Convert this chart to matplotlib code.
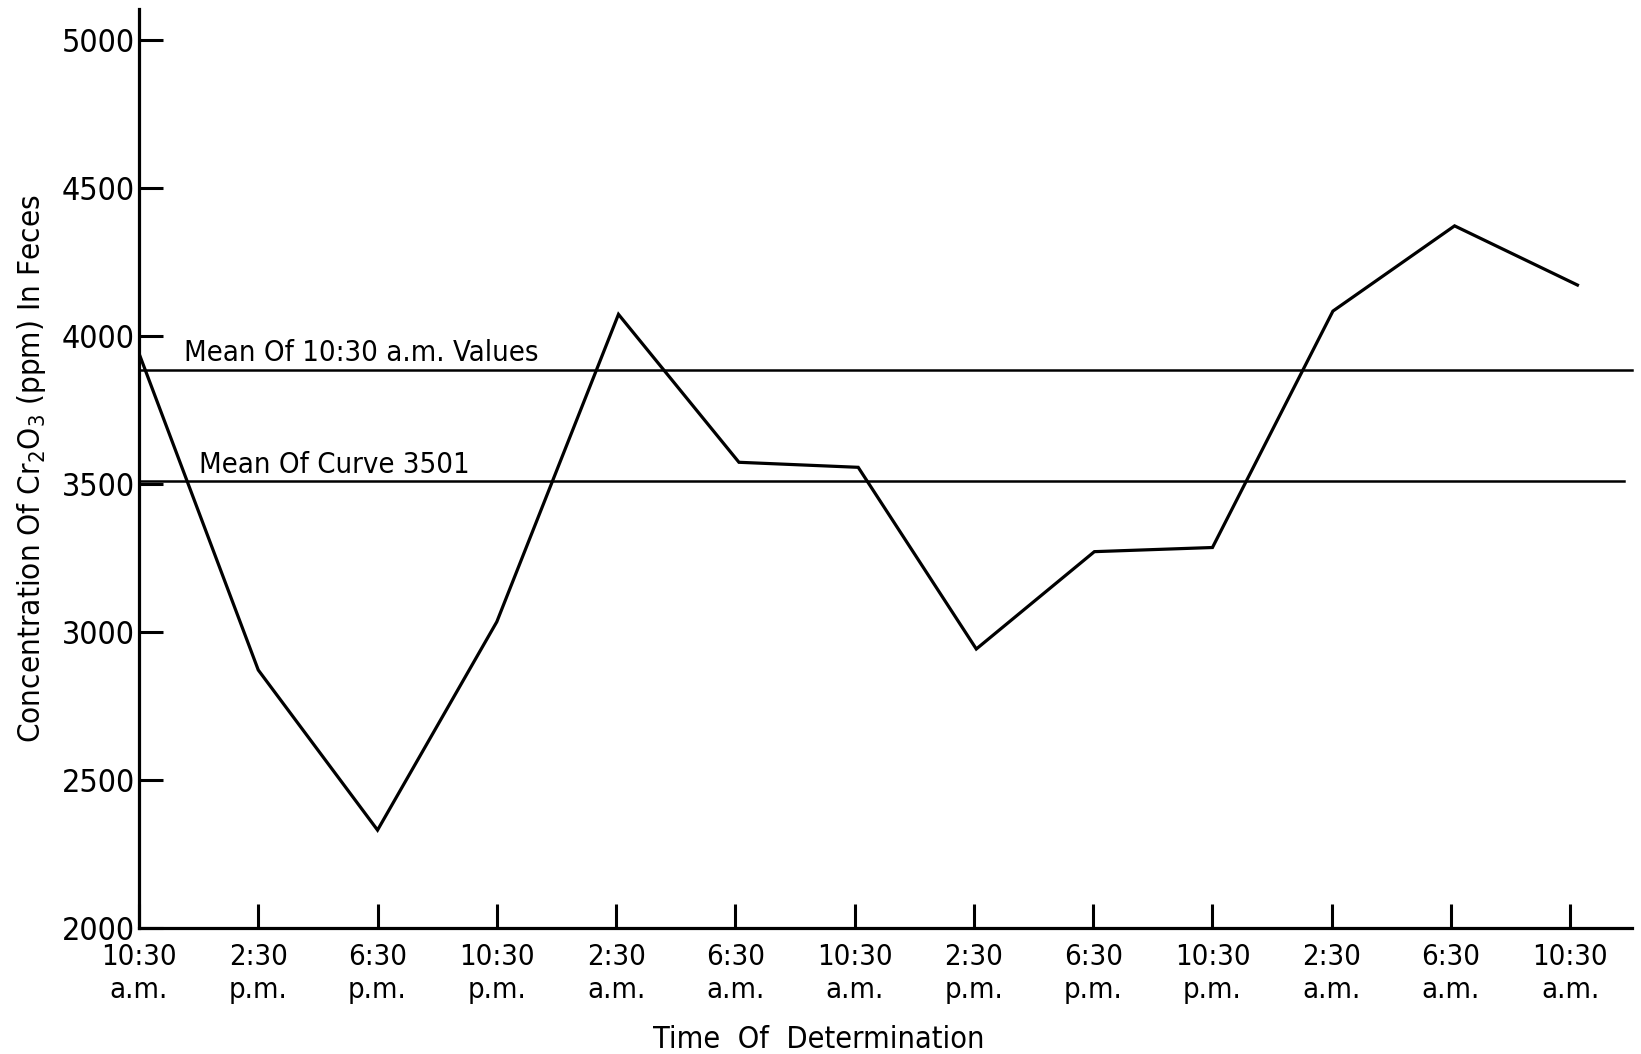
import matplotlib
matplotlib.use("Agg")
from matplotlib import pyplot as plt

# sampling times (every 4 hours) and Cr2O3 concentration in feces, ppm
times = ["10:30\na.m.", "2:30\np.m.", "6:30\np.m.", "10:30\np.m.", "2:30\na.m.", "6:30\na.m.",
         "10:30\na.m.", "2:30\np.m.", "6:30\np.m.", "10:30\np.m.", "2:30\na.m.", "6:30\na.m.",
         "10:30\na.m."]
x_pos = [0, 1, 2, 3, 4.02, 5.03, 6.03, 7.02, 8.01, 9.0, 10.01, 11.03, 12.06]
conc = [3942, 2872, 2331, 3035, 4074, 3574, 3557, 2943, 3272, 3286, 4085, 4373, 4173]

mean_1030 = 3887    # mean of 10:30 a.m. values
mean_curve = 3511   # mean of curve 3501

plt.rcParams['font.family'] = ['DejaVu Sans']
plt.rcParams['font.stretch'] = 'condensed'

fig = plt.figure(figsize=(16.41, 10.54), dpi=100)
ax = fig.add_axes([0.0847, 0.1195, 0.91, 0.872])

ax.plot(x_pos, conc, color="black", lw=2.3, solid_joinstyle="miter")
ax.plot([0, 12.52], [mean_1030, mean_1030], color="black", lw=1.8, clip_on=False)
ax.plot([0, 12.45], [mean_curve, mean_curve], color="black", lw=1.8, clip_on=False)

ax.text(0.38, mean_1030 + 8, "Mean Of 10:30 a.m. Values", fontsize=21, va="bottom", ha="left")
ax.text(0.5, mean_curve + 8, "Mean Of Curve 3501", fontsize=21, va="bottom", ha="left")

ax.set_xlim(0, 12.52)
ax.set_ylim(2000, 5106)
ax.set_xticks(range(len(times)))
ax.set_xticklabels(times, fontsize=21, linespacing=1.2)
ax.set_yticks([2000, 2500, 3000, 3500, 4000, 4500, 5000])
ax.tick_params(axis="both", direction="in", length=17, width=2.2)
ax.tick_params(axis="x", pad=11)
ax.tick_params(axis="y", pad=3, labelsize=23)

for s in ["top", "right"]:
    ax.spines[s].set_visible(False)
for s in ["left", "bottom"]:
    ax.spines[s].set_linewidth(2.3)

ax.set_ylabel("Concentration Of Cr$_2$O$_3$ (ppm) In Feces", fontsize=22.5, labelpad=10)
ax.set_xlabel("Time  Of  Determination", fontsize=22)
ax.xaxis.set_label_coords(0.455, -0.105)

fig.savefig("out.png", dpi=100, facecolor="white")
